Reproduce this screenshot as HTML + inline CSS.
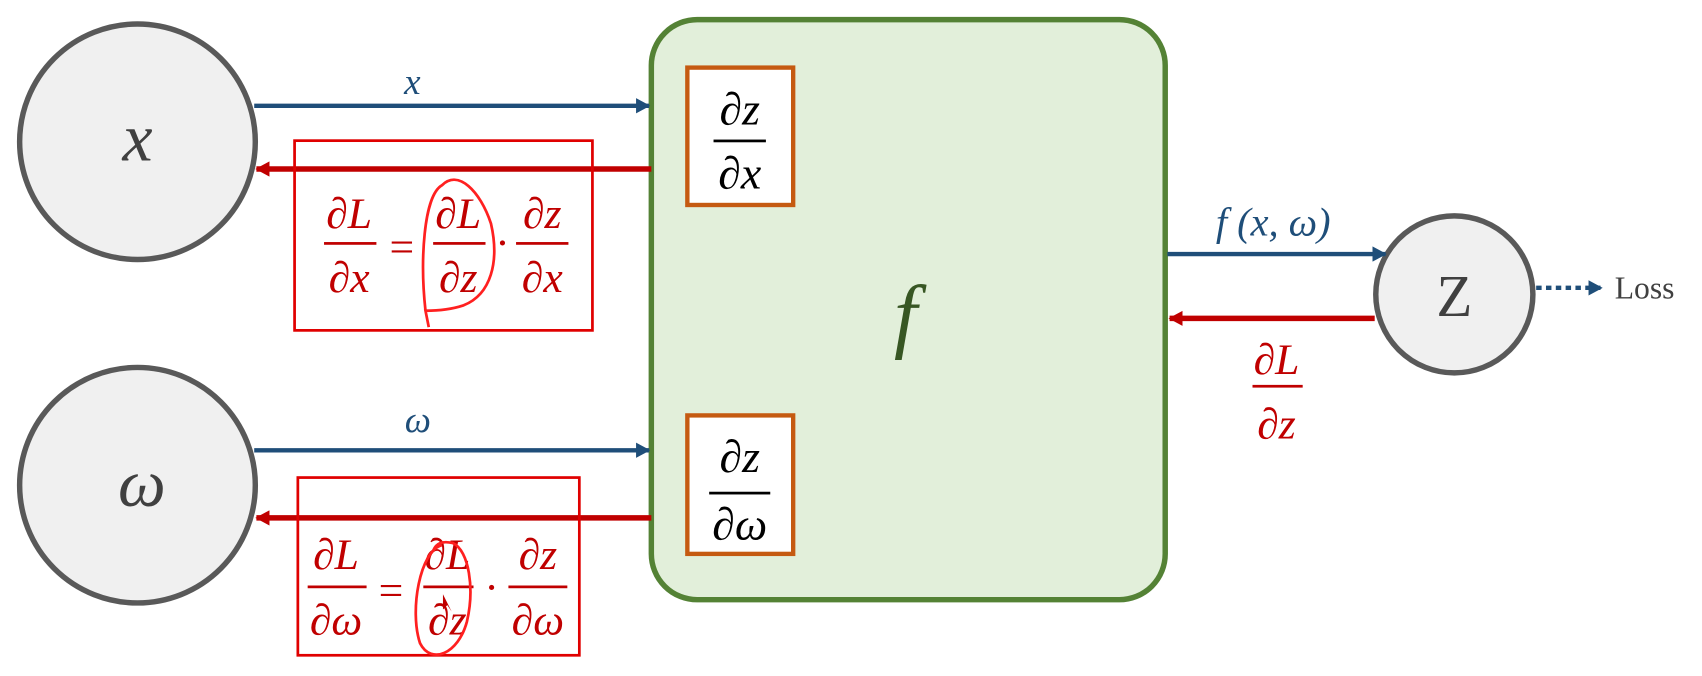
<!DOCTYPE html>
<html><head><meta charset="utf-8"><style>
html,body{margin:0;padding:0;background:#fff;}
svg{display:block;}
text{font-family:"Liberation Serif","DejaVu Serif",serif;font-style:italic;}
text.n{font-style:normal;}
</style></head><body>
<svg width="1702" height="676" viewBox="0 0 1560 620" preserveAspectRatio="none" xmlns="http://www.w3.org/2000/svg">
<defs>
<marker id="ar" markerWidth="14" markerHeight="14" refX="12" refY="7" orient="auto" markerUnits="userSpaceOnUse"><path d="M0,0 L13,7 L0,14 z" fill="#c00000"/></marker>
<marker id="ab2" markerWidth="14" markerHeight="14" refX="12" refY="7" orient="auto" markerUnits="userSpaceOnUse"><path d="M0,0 L13,7 L0,14 z" fill="#1f4e79"/></marker>
</defs>
<rect x="597" y="18" width="471" height="532" rx="42" fill="#e2efda" stroke="#548235" stroke-width="5"/>
<circle cx="126" cy="130" r="108" fill="#f0f0f0" stroke="#595959" stroke-width="5"/>
<circle cx="126" cy="445" r="108" fill="#f0f0f0" stroke="#595959" stroke-width="5"/>
<circle cx="1333" cy="270" r="72" fill="#f0f0f0" stroke="#595959" stroke-width="5"/>
<text x="126" y="147" font-size="62" text-anchor="middle" fill="#404040">x</text>
<text x="130" y="464" font-size="62" text-anchor="middle" fill="#404040">ω</text>
<text class="n" x="1333" y="290" font-size="54" text-anchor="middle" fill="#404040">Z</text>
<line x1="233" y1="97" x2="595" y2="97" stroke="#1f4e79" stroke-width="4" marker-end="url(#ab2)"/>
<line x1="597" y1="155" x2="235" y2="155" stroke="#c00000" stroke-width="5" marker-end="url(#ar)"/>
<line x1="233" y1="413" x2="595" y2="413" stroke="#1f4e79" stroke-width="4" marker-end="url(#ab2)"/>
<line x1="597" y1="475" x2="235" y2="475" stroke="#c00000" stroke-width="5" marker-end="url(#ar)"/>
<line x1="1070" y1="233" x2="1270" y2="233" stroke="#1f4e79" stroke-width="4" marker-end="url(#ab2)"/>
<line x1="1260" y1="292" x2="1072" y2="292" stroke="#c00000" stroke-width="5" marker-end="url(#ar)"/>
<line x1="1408" y1="264" x2="1468" y2="264" stroke="#1f4e79" stroke-width="4" stroke-dasharray="5,4" marker-end="url(#ab2)"/>
<text class="n" x="1480" y="274" font-size="29" fill="#404040">Loss</text>
<text x="378" y="86" font-size="34" text-anchor="middle" fill="#1f4e79">x</text>
<text x="383" y="396" font-size="34" text-anchor="middle" fill="#1f4e79">ω</text>
<text x="1167" y="216" font-size="37" text-anchor="middle" fill="#1f4e79">f (x, ω)</text>
<text x="830" y="314" font-size="76" text-anchor="middle" fill="#375623">f</text>
<g fill="#c00000" font-size="40" text-anchor="middle">
<text x="1170" y="343">∂L</text><rect x="1148" y="353" width="46" height="2.5"/><text x="1170" y="402">∂z</text>
</g>
<rect x="630" y="62" width="97" height="126" fill="#fff" stroke="#c55a11" stroke-width="4"/>
<rect x="630" y="381" width="97" height="127" fill="#fff" stroke="#c55a11" stroke-width="4"/>
<g fill="#000" font-size="42" text-anchor="middle">
<text x="678" y="114">∂z</text><rect x="654" y="128" width="48" height="2.5"/><text x="678" y="173">∂x</text>
<text x="678" y="433">∂z</text><rect x="650" y="451" width="56" height="2.5"/><text x="678" y="495">∂ω</text>
</g>
<rect x="270" y="129" width="273" height="174" fill="none" stroke="#e00000" stroke-width="2.5"/>
<rect x="273" y="438" width="258" height="163" fill="none" stroke="#e00000" stroke-width="2.5"/>
<g fill="#c00000" font-size="40" text-anchor="middle">
<text x="320" y="209">∂L</text><rect x="297" y="222" width="48" height="2.5"/><text x="320" y="268">∂x</text>
<text x="368" y="240">=</text>
<text x="420" y="209">∂L</text><rect x="397" y="222" width="48" height="2.5"/><text x="420" y="268">∂z</text>
<text x="460" y="236">·</text>
<text x="497" y="209">∂z</text><rect x="473" y="222" width="48" height="2.5"/><text x="497" y="268">∂x</text>
<text x="308" y="522">∂L</text><rect x="282" y="537" width="54" height="2.5"/><text x="308" y="582">∂ω</text>
<text x="358" y="555">=</text>
<text x="410" y="522">∂L</text><rect x="388" y="537" width="46" height="2.5"/><text x="410" y="582">∂z</text>
<text x="450" y="552">·</text>
<text x="493" y="522">∂z</text><rect x="466" y="537" width="54" height="2.5"/><text x="493" y="582">∂ω</text>
</g>
<path d="M390,285 C385,240 388,180 405,170 C420,155 440,175 450,205 C458,240 450,270 425,280 C410,285 395,285 390,285 L393,300" fill="none" stroke="#ff2020" stroke-width="2.5"/>
<path d="M405,500 C385,505 375,560 385,590 C395,610 420,600 428,570 C435,540 430,505 415,498 C405,496 400,498 397,505" fill="none" stroke="#ff2020" stroke-width="2.5"/>
<path d="M406,545 l0,14 l4,-4 l4,6 z" fill="#c00000"/>
</svg>
</body></html>
